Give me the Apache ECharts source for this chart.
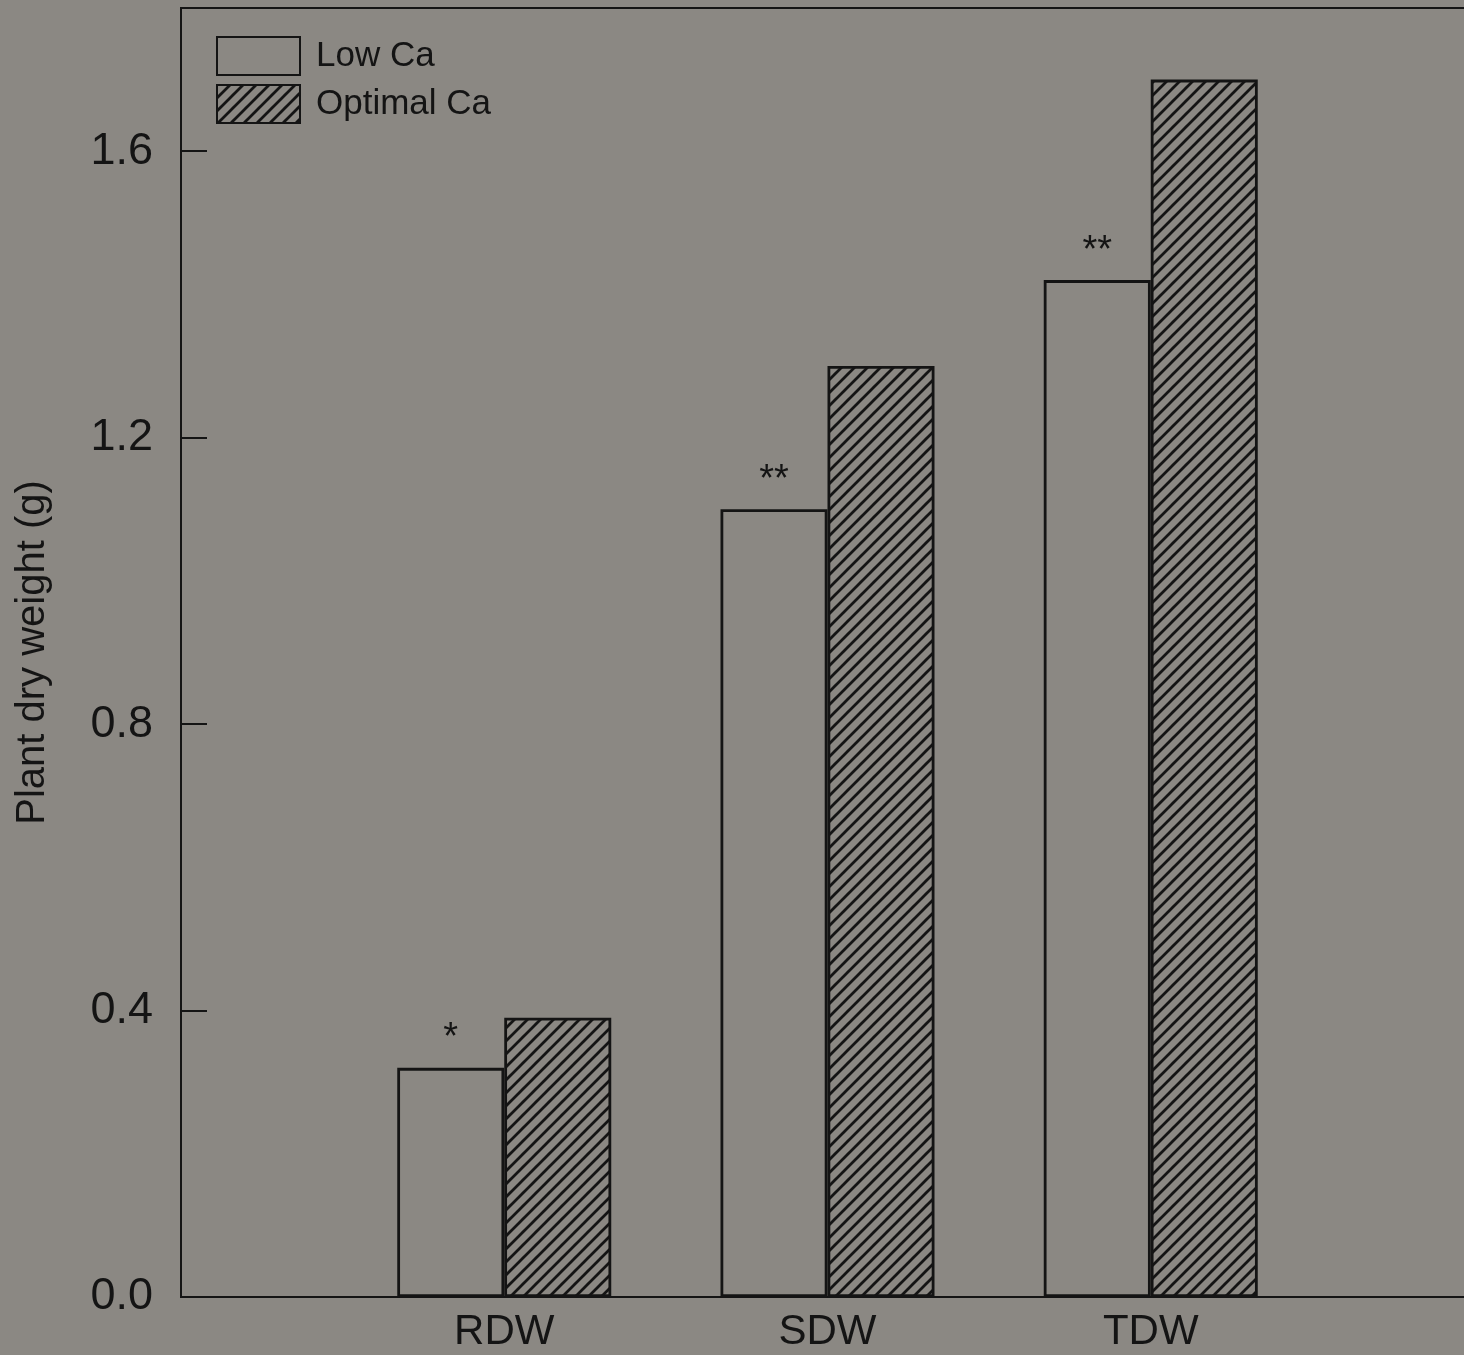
<!DOCTYPE html>
<html>
<head>
<meta charset="utf-8">
<title>Plant dry weight</title>
<script src="https://cdn.jsdelivr.net/npm/echarts@6/dist/echarts.min.js"></script>
<style>
  html, body { margin: 0; padding: 0; background: #8b8883; }
  #chart { width: 1464px; height: 1355px; }
</style>
</head>
<body>
<div id="chart"></div>
<script>
// Dry-weight measurements (g) for roots, shoots and whole plants
const categories = ['', 'RDW', 'SDW', 'TDW', ''];
const lowCa = [null, 0.32, 1.10, 1.42, null];
const optimalCa = [null, 0.39, 1.30, 1.70, null];
const significance = ['', '*', '**', '**', ''];
const seriesNames = ['Low Ca', 'Optimal Ca'];
const yTicks = [0.0, 0.4, 0.8, 1.2, 1.6];

// Diagonal hatch tile for the optimal-Ca bars
function hatchPattern() {
  const s = 13;
  const c = document.createElement('canvas');
  c.width = s; c.height = s;
  const g = c.getContext('2d');
  g.strokeStyle = '#141414';
  g.lineWidth = 2.8;
  g.lineCap = 'square';
  g.beginPath();
  g.moveTo(-2, s + 2); g.lineTo(s + 2, -2);
  g.moveTo(-2, 2); g.lineTo(2, -2);
  g.moveTo(s - 2, s + 2); g.lineTo(s + 2, s - 2);
  g.stroke();
  return c;
}

const FONT = '"Liberation Sans", Arial, Helvetica, sans-serif';
const INK = '#141414';
const chart = echarts.init(document.getElementById('chart'));

chart.setOption({
  backgroundColor: '#8b8883',
  animation: false,
  grid: {
    left: 181, top: 8, width: 1293, height: 1289,
    outerBoundsMode: 'none',
    containLabel: false,
    show: true, borderColor: INK, borderWidth: 2, backgroundColor: 'transparent'
  },
  legend: {
    orient: 'vertical',
    left: 211, top: 31,
    itemWidth: 83, itemHeight: 38, itemGap: 8,
    icon: 'rect',
    data: seriesNames,
    textStyle: { fontFamily: FONT, fontSize: 35, color: INK, padding: [0, 0, 0, 11] }
  },
  xAxis: {
    type: 'category',
    data: categories,
    boundaryGap: false,
    axisLine: { lineStyle: { color: INK, width: 2 } },
    axisTick: { show: false },
    axisLabel: { fontFamily: FONT, fontSize: 42, color: INK, margin: 14 },
    splitLine: { show: false }
  },
  yAxis: {
    type: 'value',
    min: 0, max: 1.8, interval: 0.4,
    name: 'Plant dry weight (g)',
    nameLocation: 'middle',
    nameRotate: 90,
    nameGap: 128,
    nameTextStyle: { fontFamily: FONT, fontSize: 40, color: INK },
    axisLine: { show: true, lineStyle: { color: INK, width: 2 } },
    axisTick: { show: true, inside: true, length: 26, lineStyle: { color: INK, width: 2 } },
    axisLabel: {
      fontFamily: FONT, fontSize: 45, color: INK, margin: 28,
      showMaxLabel: false,
      formatter: v => (yTicks.some(t => Math.abs(t - v) < 1e-9) ? v.toFixed(1) : '')
    },
    splitLine: { show: false }
  },
  series: [
    {
      name: seriesNames[0],
      type: 'bar',
      data: lowCa,
      barWidth: 107,
      barGap: '0%',
      itemStyle: { color: 'rgba(0,0,0,0)', borderColor: INK, borderWidth: 2.8 },
      label: {
        show: true,
        position: 'top',
        distance: 10,
        fontFamily: FONT,
        fontSize: 38,
        color: INK,
        formatter: p => significance[p.dataIndex]
      }
    },
    {
      name: seriesNames[1],
      type: 'bar',
      data: optimalCa,
      barWidth: 107,
      barGap: '0%',
      itemStyle: {
        color: { image: hatchPattern(), repeat: 'repeat' },
        borderColor: INK, borderWidth: 2.8
      }
    }
  ]
});
</script>
</body>
</html>
